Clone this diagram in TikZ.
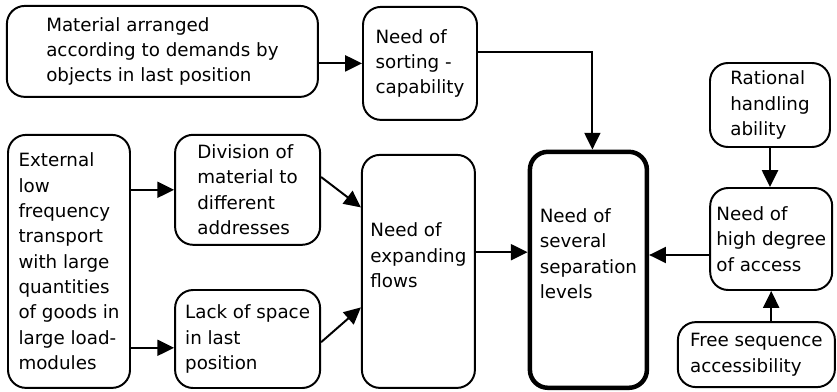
\documentclass[tikz,border=0pt]{standalone}
\usepackage{fontspec}
\setmainfont{DejaVu Sans}
\usepackage{tikz}
\usetikzlibrary{arrows.meta}
\newcommand{\boxfont}{\fontsize{13pt}{18pt}\selectfont}
\tikzset{blk/.style={draw, line width=1.4pt, rounded corners=.45cm, align=left, font=\boxfont, inner sep=2pt},
	main/.style={blk, line width=3.2pt}}

\begin{document}
\begin{tikzpicture}[>={Triangle[length=4.2mm,width=4mm]}, line width=1.4pt]
			\useasboundingbox (0,0) rectangle (20.925,9.775);
			\node[blk, minimum width=7.775cm, minimum height=2.275cm] (v1) at (4.06,8.49) {Material arranged\\according to demands by\\objects in last position};
			\node[blk, minimum width=2.85cm, minimum height=2.825cm] (v2) at (10.5,8.19) {Need of\\sorting -\\capability};
			\node[blk, minimum width=3.05cm, minimum height=6.325cm] (v3) at (1.725,3.24) {External\\low\\frequency\\transport\\with large\\quantities\\of goods in\\large load-\\modules};
			\node[blk, minimum width=3.625cm, minimum height=2.75cm] (v4) at (6.19,5.03) {Division of\\material to\\different\\addresses};
			\node[blk, minimum width=3.625cm, minimum height=2.45cm] (v5) at (6.19,1.3) {Lack of space\\in last\\position};
			\node[blk, minimum width=2.825cm, minimum height=5.825cm, text depth=23pt] (v6) at (10.46,2.99) {Need of\\expanding\\flows};
			\node[main, minimum width=2.925cm, minimum height=5.9cm, text depth=23pt] (v7) at (14.71,3.03) {Need of\\several\\separation\\levels};
			\node[blk, minimum width=3cm, minimum height=2.1cm] (v8) at (19.25,7.15) {Rational\\handling\\ability};
			\node[blk, minimum width=3.05cm, minimum height=2.55cm] (v9) at (19.28,3.8) {Need of\\high degree\\of access};
			\node[blk, minimum width=3.925cm, minimum height=1.625cm] (v10) at (18.91,0.91) {Free sequence\\accessibility};
			\draw[->] (v2.west -| v1.east) -- (v2.west);
			\draw[->] ([yshift=.28cm]v2.east) -| ([xshift=.1cm]v7.north);
			\draw[->] (v4.west -| v3.east) -- (v4.west);
			\draw[->] ([yshift=-.22cm]v5.west -| v3.east) -- ([yshift=-.22cm]v5.west);
			\draw[->] ([yshift=.32cm]v4.east) -- ([yshift=1.6cm]v6.west);
			\draw[->] ([yshift=-.08cm]v5.east) -- ([yshift=-.9cm]v6.west);
			\draw[->] ([yshift=.48cm]v6.east) -- ([yshift=.48cm]v6.east -| v7.west);
			\draw[->] ([yshift=-.4cm]v9.west) -- ([yshift=-.4cm]v9.west -| v7.east);
			\draw[->] (v8.south) -- (v8.south |- v9.north);
			\draw[->] (v9.south |- v10.north) -- (v9.south);
		\end{tikzpicture}
\end{document}
